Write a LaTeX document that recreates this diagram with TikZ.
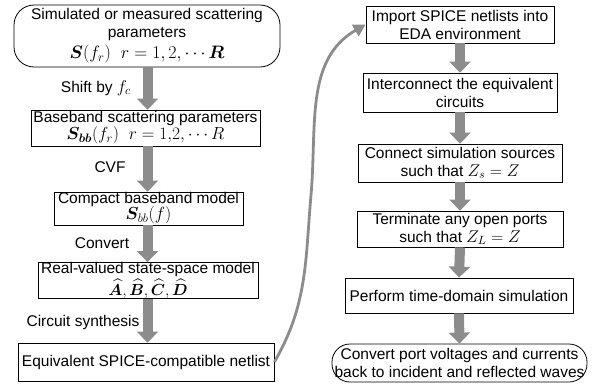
\RequirePackage{fix-cm}
\documentclass[tikz,border=0pt]{standalone}
\usepackage{amsmath,bm}
\usepackage{fontspec}
\setmainfont{Liberation Sans}
\usetikzlibrary{arrows.meta}
\definecolor{arrgray}{RGB}{140,140,140}
\newcommand{\mathsz}[1]{\fontsize{#1}{#1}\selectfont}
\begin{document}
\begin{tikzpicture}[x=1pt,y=-1pt,
  box/.style={draw,line width=0.8pt,align=center,inner sep=0pt,
    font=\fontsize{15.5}{18}\selectfont},
  bigarrow/.style={draw=arrgray,line width=10pt,-{Triangle[width=21pt,length=11pt]}},
  lab/.style={font=\fontsize{15.5}{17}\selectfont,inner sep=0pt}]
\useasboundingbox (0,0) rectangle (605,386);
% left column
\node[box,rounded corners=20pt,minimum width=266pt,minimum height=62pt] (b1) at (147,36)
  {Simulated or measured scattering\\parameters\\[3pt]
   {\mathsz{18}$\bm{S}(f_r)\ \ r=1,2,\cdots \bm{R}$}};
\node[box,minimum width=229pt,minimum height=36pt] (b2) at (145.5,128)
  {Baseband scattering parameters\\[-1pt]{\mathsz{17.5}$\bm{S_{bb}}(f_r)\ \ r=1{,}2,\cdots R$}};
\node[box,minimum width=189pt,minimum height=33pt] (b3) at (148.5,208.5)
  {Compact baseband model\\[-2pt]{\mathsz{17.5}$\bm{S}_{bb}(f)$}};
\node[box,minimum width=220pt,minimum height=34pt] (b4) at (148,280.5)
  {Real-valued state-space model\\[1.5pt]{\mathsz{16}$\widehat{\bm{A}},\widehat{\bm{B}},\widehat{\bm{C}},\widehat{\bm{D}}$}};
\node[box,minimum width=256pt,minimum height=38pt] (b5) at (146,362)
  {Equivalent SPICE-compatible netlist};
% right column
\node[box,minimum width=188pt,minimum height=37pt] (r1) at (460,24.5)
  {Import SPICE netlists into\\EDA environment};
\node[box,minimum width=194pt,minimum height=39pt] (r2) at (460,92.5)
  {Interconnect the equivalent\\circuits};
\node[box,minimum width=204pt,minimum height=38pt] (r3) at (460,163)
  {Connect simulation sources\\such that {\mathsz{17}$Z_s=Z$}};
\node[box,minimum width=206pt,minimum height=36pt] (r4) at (460,229)
  {Terminate any open ports\\such that {\mathsz{17}$Z_L=Z$}};
\node[box,minimum width=228pt,minimum height=35pt] (r5) at (459,295.5)
  {Perform time-domain simulation};
\node[box,rounded corners=18pt,minimum width=255pt,minimum height=38pt] (r6) at (459.5,363)
  {Convert port voltages and currents\\back to incident and reflected waves};
% arrows left
\draw[bigarrow] (b1.south -| 147.5,0) -- (b2.north -| 147.5,0);
\draw[bigarrow] (b2.south -| 147.5,0) -- (b3.north -| 147.5,0);
\draw[bigarrow] (b3.south -| 147.5,0) -- (b4.north -| 147.5,0);
\draw[bigarrow] (b4.south -| 147.5,0) -- (b5.north -| 147.5,0);
% arrows right
\draw[bigarrow] (r1.south) -- (r2.north);
\draw[bigarrow] (r2.south) -- (r3.north);
\draw[bigarrow] (r3.south) -- (r4.north);
\draw[bigarrow] (r4.south) -- (r5.north);
\draw[bigarrow] (r5.south) -- (r6.north);
% labels
\node[lab,anchor=east] (l1) at (131,88) {Shift by {\mathsz{17}$f_c$}};
\node[lab] (l2) at (110,167) {CVF};
\node[lab] (l3) at (102,243) {Convert};
\node[lab] (l4) at (83,322) {Circuit synthesis};
% curved connector
\coordinate (mid) at (311,195);
\draw[arrgray,line width=2.8pt,-{Triangle[width=13pt,length=12pt]}]
  (b5.east) to[out=60,in=-95] (mid) to[out=85,in=-150] (r1.west);
\end{tikzpicture}
\end{document}
